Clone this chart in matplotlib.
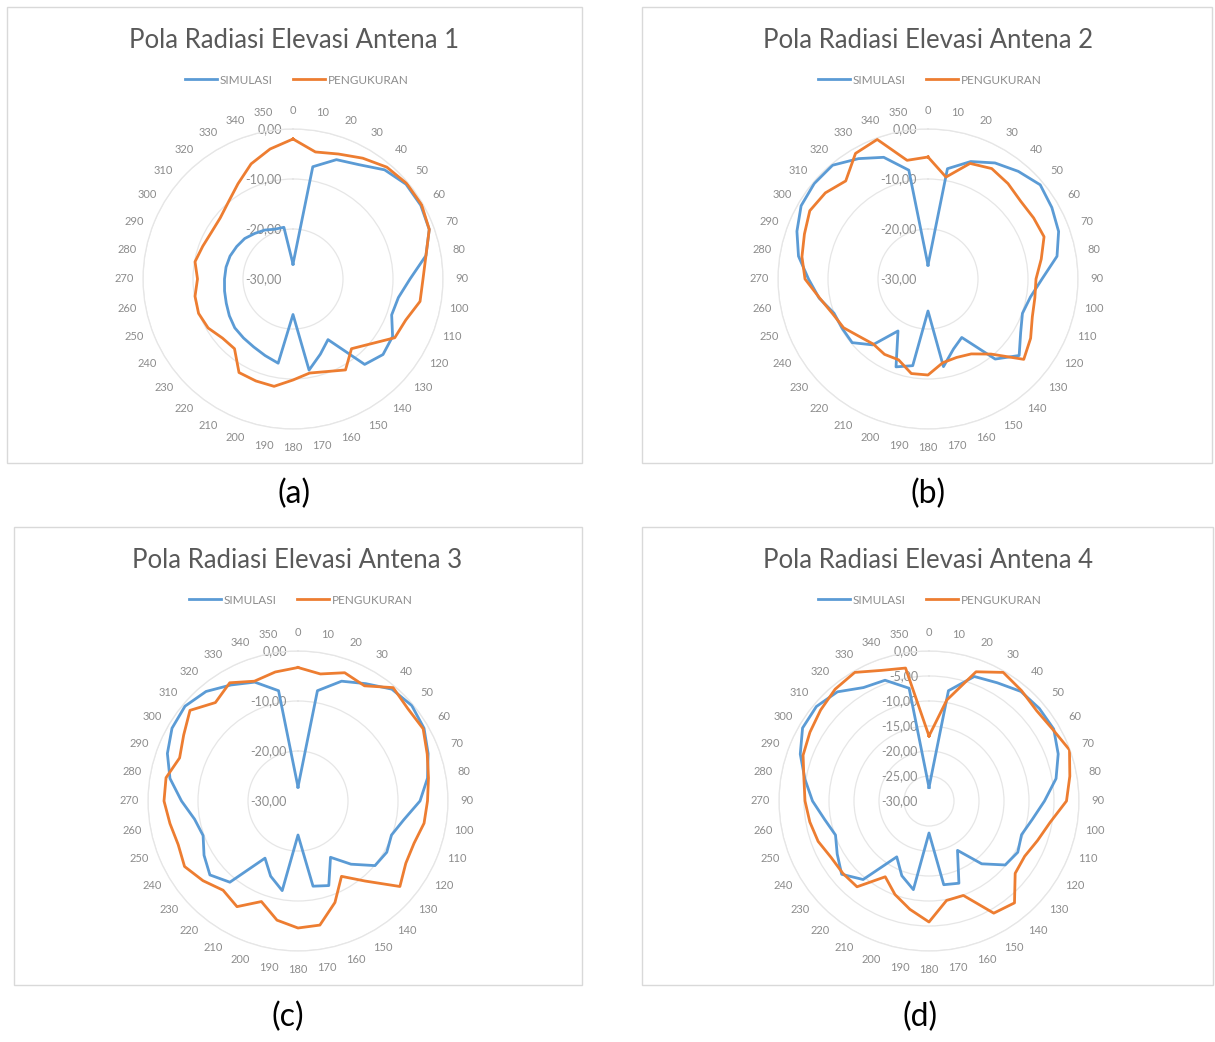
import numpy as np
import matplotlib
matplotlib.use("Agg")
import matplotlib.pyplot as plt
from matplotlib.patches import Rectangle

# ---------------- data ----------------
angles = list(range(0, 360, 10))
angle_labels = [str(a) for a in angles]

sim_1 = [-27.0, -7.2, -4.6, -3.6, -1.5, -0.5, -0.5, -1.0, -3.0, -6.6, -8.6, -9.0,
         -7.0, -6.5, -7.7, -16.0, -14.0, -11.5, -22.9, -12.9, -13.7, -14.3, -14.6, -14.8,
         -15.3, -15.8, -16.1, -16.3, -16.4, -16.6, -17.0, -17.4, -18.1, -18.7, -19.4, -19.5]
meas_1 = [-2.0, -4.2, -3.4, -2.1, -0.8, -0.3, -0.3, -1.0, -3.0, -4.0, -4.2, -6.0,
          -6.5, -9.8, -11.8, -9.0, -10.3, -10.9, -9.8, -8.2, -8.3, -8.4, -11.8, -11.6,
          -10.4, -9.9, -10.1, -10.9, -10.1, -10.8, -11.2, -11.0, -9.9, -8.0, -5.5, -3.6]

sim_2 = [-27.2, -7.6, -5.0, -3.2, -1.9, -0.7, -1.4, -2.2, -3.8, -7.2, -9.2, -9.9,
         -8.6, -6.2, -9.1, -16.5, -15.1, -12.2, -23.6, -12.4, -11.3, -18.0, -12.8, -10.2,
         -10.2, -10.0, -7.9, -6.1, -3.7, -2.1, -0.7, -0.3, -0.3, -2.2, -4.1, -7.9]
meas_2 = [-5.6, -9.3, -5.4, -4.5, -5.1, -5.8, -5.6, -5.3, -7.0, -8.4, -8.3, -7.8,
          -6.3, -5.0, -10.4, -12.7, -13.3, -13.0, -10.8, -10.8, -12.8, -12.6, -13.0, -12.1,
          -10.5, -9.7, -8.0, -5.4, -4.4, -3.7, -2.7, -3.2, -4.4, -1.0, -0.3, -5.9]

sim_3 = [-27.2, -7.6, -4.5, -2.9, -0.8, -0.3, -0.9, -2.3, -3.7, -5.6, -8.5, -10.1,
         -9.5, -9.9, -13.5, -17.0, -12.0, -12.7, -23.2, -11.8, -14.0, -16.8, -8.8, -7.0,
         -8.3, -9.8, -9.0, -6.7, -4.0, -2.2, -0.9, -0.5, -1.4, -3.2, -4.7, -7.6]
meas_3 = [-3.3, -4.2, -2.7, -3.4, -0.4, -1.3, -1.1, -2.5, -3.5, -4.1, -4.4, -5.3,
          -5.1, -3.4, -9.1, -12.6, -8.4, -4.8, -4.6, -5.8, -8.6, -5.6, -6.7, -5.2,
          -3.8, -4.5, -4.0, -3.2, -3.2, -4.8, -3.6, -1.8, -4.3, -2.7, -4.5, -3.8]

sim_4 = [-27.3, -7.6, -3.5, -2.7, -1.4, -1.2, -1.2, -2.5, -4.2, -6.9, -9.0, -10.3,
         -9.5, -10.1, -13.6, -18.6, -12.5, -13.0, -23.6, -12.0, -14.1, -17.1, -9.5, -7.2,
         -8.8, -10.1, -8.8, -6.7, -4.8, -2.6, -0.8, -0.6, -1.5, -3.8, -4.3, -7.1]
meas_4 = [-17.0, -9.5, -2.5, -0.3, -1.2, -1.9, -1.4, -0.1, -1.4, -2.5, -5.4, -6.9,
          -7.9, -7.5, -3.4, -4.1, -9.9, -9.8, -5.8, -8.0, -10.1, -12.5, -7.6, -7.5,
          -7.4, -6.4, -5.8, -5.2, -4.6, -3.2, -2.5, -1.7, -0.8, -0.3, -2.2, -3.0]

titles = ["Pola Radiasi Elevasi Antena 1", "Pola Radiasi Elevasi Antena 2",
          "Pola Radiasi Elevasi Antena 3", "Pola Radiasi Elevasi Antena 4"]
sub_labels = ["(a)", "(b)", "(c)", "(d)"]
series_names = ["SIMULASI", "PENGUKURAN"]
r_ticks_10 = [0, -10, -20, -30]
r_ticks_5 = [0, -5, -10, -15, -20, -25, -30]

sims = [sim_1, sim_2, sim_3, sim_4]
meass = [meas_1, meas_2, meas_3, meas_4]
rticks = [r_ticks_10, r_ticks_10, r_ticks_10, r_ticks_5]

# ---------------- layout ----------------
W, H = 1215, 1042
BLUE = "#5B9BD5"
ORANGE = "#ED7D31"
plt.rcParams['font.family'] = ['Lato', 'DejaVu Sans']

fig = plt.figure(figsize=(W / 100, H / 100), dpi=100)
fig.patch.set_facecolor("white")

def fx(x):
    return x / W

def fy(y):
    return 1 - y / H

centers = [(293, 279), (928, 279), (298, 801), (929, 801)]
R = 150
frames = [(7, 7, 582, 463), (642, 7, 1212, 463), (14, 527, 582, 985), (642, 527, 1213, 985)]
title_pos = [(294, 40), (928, 40), (297, 560), (928, 560)]
legend_pos = [(297, 80), (930, 80), (301, 600), (930, 600)]
sub_pos = [(294, 494), (928, 494), (288, 1017), (920, 1017)]

def fmt(v):
    s = "%.2f" % v
    s = s.replace(".", ",")
    if v == 0:
        s = "0,00"
    return s

for i in range(4):
    x0, y0, x1, y1 = frames[i]
    fig.patches.append(Rectangle((fx(x0), fy(y1)), fx(x1) - fx(x0), fy(y0) - fy(y1),
                                 transform=fig.transFigure, fill=False,
                                 edgecolor="#d9d9d9", linewidth=1.0, zorder=0))
    cx, cy = centers[i]
    ax = fig.add_axes([fx(cx - R), fy(cy + R), fx(2 * R), fy(cy - R) - fy(cy + R)],
                      projection="polar")
    ax.set_theta_zero_location("N")
    ax.set_theta_direction(-1)
    th = np.deg2rad(angles + [angles[0]])
    ls = ax.plot(th, sims[i] + [sims[i][0]], color=BLUE, lw=2.0, zorder=3)[0]
    lm = ax.plot(th, meass[i] + [meass[i][0]], color=ORANGE, lw=2.0, zorder=4)[0]
    ax.set_ylim(-30, 0)
    ax.set_yticks(rticks[i][:-1])
    ax.set_yticklabels([])
    ax.yaxis.grid(True, color="#e6e6e6", lw=0.9)
    ax.xaxis.grid(False)
    ax.spines['polar'].set_color("#e6e6e6")
    ax.spines['polar'].set_linewidth(0.9)
    ax.set_xticks(np.deg2rad(angles))
    ax.set_xticklabels(angle_labels, fontsize=8, color="#8c8c8c")
    ax.tick_params(axis='x', pad=3)
    ax.set_facecolor("none")
    for v in rticks[i]:
        ax.annotate(fmt(v), xy=(0, v), xytext=(-8, 0), textcoords="offset points",
                    ha="right", va="center", fontsize=9, color="#8c8c8c", zorder=2)
    tx, ty = title_pos[i]
    fig.text(fx(tx), fy(ty), titles[i], ha="center", va="center", fontsize=18.5,
             color="#595959")
    lx, ly = legend_pos[i]
    fig.legend([ls, lm], series_names, loc="center", bbox_to_anchor=(fx(lx), fy(ly)),
               ncol=2, frameon=False, fontsize=8.5, handlelength=2.7,
               columnspacing=1.7, handletextpad=0.25, labelcolor="#8c8c8c")
    sx, sy = sub_pos[i]
    fig.text(fx(sx), fy(sy), sub_labels[i], ha="center", va="center", fontsize=23,
             color="#000000")

fig.savefig("out.png", dpi=100, facecolor="white")
